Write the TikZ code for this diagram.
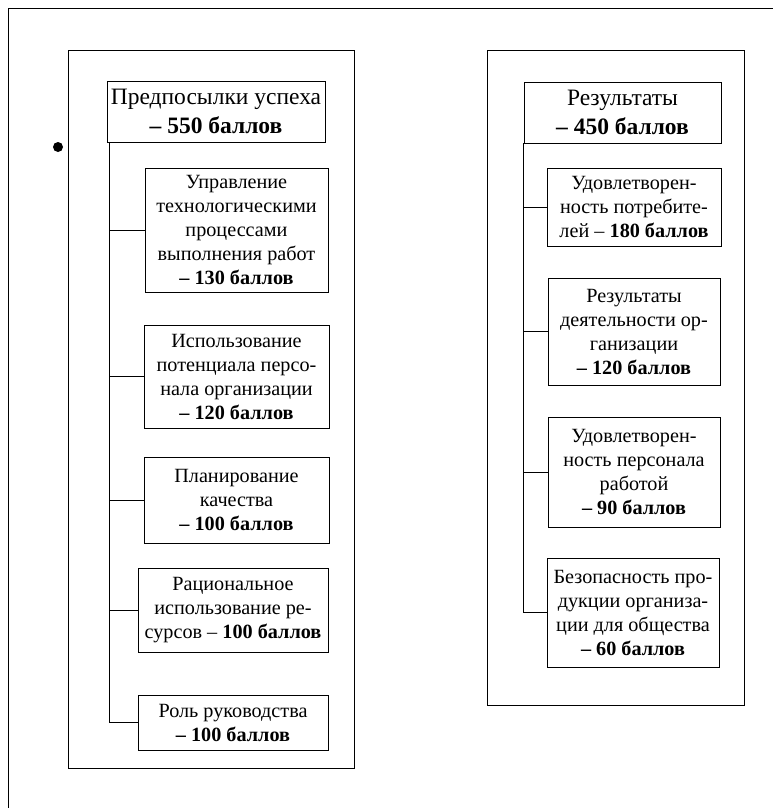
\documentclass[tikz,border=0pt]{standalone}
\usepackage{fontspec}
\setmainfont{Liberation Serif}
\usepackage{tikz}
\usetikzlibrary{positioning, calc}

\tikzset{
  critbox/.style={draw, line width=0.8pt, inner sep=0pt, align=center,
    font=\fontsize{20.2}{24}\selectfont},
  headbox/.style={critbox, font=\fontsize{23.5}{29}\selectfont},
  panel/.style={draw, line width=0.8pt},
}

\begin{document}
\begin{tikzpicture}[x=1pt, y=-1pt, line width=0.8pt]
  \useasboundingbox (0,0) rectangle (773,808);
  % Outer frame (only top and left edges)
  \draw (8,808) -- (8,8) -- (773,8);
  \fill (58,147) circle (5);

  % Left panel
  \draw[panel] (68,50) rectangle (354,768);
  \node[headbox, minimum width=218, minimum height=61] (pre) at (216,111.5)
    {Предпосылки успеха\\ \textbf{– 550 баллов}};
  \node[critbox, minimum width=183, minimum height=124] (p1) at (236.5,230)
    {Управление\\ технологическими\\ процессами\\ выполнения работ\\ \textbf{– 130 баллов}};
  \node[critbox, minimum width=185, minimum height=103] (p2) at (236.5,376.5)
    {Использование\\ потенциала персо-\\ нала организации\\ \textbf{– 120 баллов}};
  \node[critbox, minimum width=185, minimum height=86] (p3) at (236.5,500)
    {Планирование\\ качества\\ \textbf{– 100 баллов}};
  \node[critbox, minimum width=190, minimum height=84] (p4) at (233,610)
    {Рациональное\\ использование ре-\\ сурсов – \textbf{100 баллов}};
  \node[critbox, minimum width=190, minimum height=55] (p5) at (233,722.5)
    {Роль руководства\\ \textbf{– 100 баллов}};

  % Left connectors
  \coordinate (ltrunk) at ([xshift=3pt]pre.south west);
  \draw (ltrunk) |- (p5.west);
  \foreach \b in {p1,p2,p3,p4} {
    \draw (\b.west) -- (\b.west -| ltrunk);
  }

  % Right panel
  \draw[panel] (487,50) rectangle (744,705);
  \node[headbox, minimum width=197, minimum height=61] (res) at (622.5,112.5)
    {Результаты\\ \textbf{– 450 баллов}};
  \node[critbox, minimum width=174, minimum height=78] (r1) at (634,207)
    {Удовлетворен-\\ ность потребите-\\ лей – \textbf{180 баллов}};
  \node[critbox, minimum width=172, minimum height=107] (r2) at (634,331.5)
    {Результаты\\ деятельности ор-\\ ганизации\\ \textbf{– 120 баллов}};
  \node[critbox, minimum width=172, minimum height=110] (r3) at (634,472)
    {Удовлетворен-\\ ность персонала\\ работой\\ \textbf{– 90 баллов}};
  \node[critbox, minimum width=172, minimum height=109] (r4) at (633,612.5)
    {Безопасность про-\\ дукции организа-\\ ции для общества\\ \textbf{– 60 баллов}};

  % Right connectors
  \draw (res.south west) |- (r4.west);
  \foreach \b in {r1,r2,r3} {
    \draw (\b.west) -- (\b.west -| res.south west);
  }
\end{tikzpicture}
\end{document}
